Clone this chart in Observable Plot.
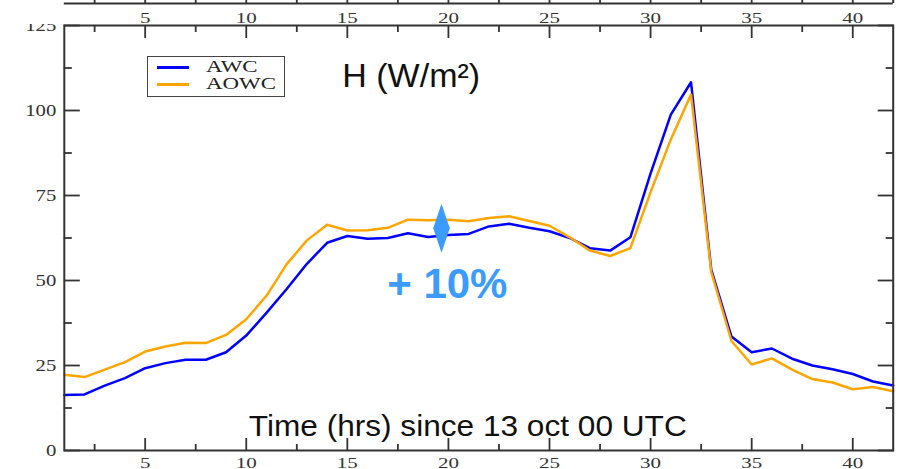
<!DOCTYPE html>
<html><head><meta charset="utf-8">
<script src="https://cdn.jsdelivr.net/npm/d3@7"></script>
<script src="https://cdn.jsdelivr.net/npm/@observablehq/plot@0.6"></script>
<style>
html,body{margin:0;padding:0;background:#fff;}
#wrap{position:relative;width:903px;height:469px;overflow:hidden;background:#fff;}
#wrap svg{position:absolute;left:0;top:0;}
#legend{position:absolute;left:147px;top:56px;width:138px;height:41px;border:1.5px solid #444;box-sizing:border-box;background:#fff;}
.sw{position:absolute;left:8.5px;width:32px;height:2.5px;}
.lt{position:absolute;left:57.5px;font-family:"Liberation Serif",serif;font-size:16.6px;line-height:16.6px;color:#222;transform:scaleX(1.38);transform-origin:0 0;white-space:nowrap;}
</style></head>
<body><div id="wrap"></div>
<script>
// hours since 13 oct 00 UTC
const hours = [1,2,3,4,5,6,7,8,9,10,11,12,13,14,15,16,17,18,19,20,21,22,23,24,25,26,27,28,29,30,31,32,33,34,35,36,37,38,39,40,41,42];
const awc = [16.3,16.5,19.1,21.3,24.2,25.7,26.7,26.7,28.9,33.8,40.5,47.5,54.9,61.1,63.1,62.3,62.5,63.9,62.8,63.4,63.7,65.9,66.7,65.5,64.5,62.5,59.5,58.8,62.7,81.5,98.8,108.3,53.2,33.5,28.9,30.0,27.0,25.0,23.9,22.5,20.3,19.1];
const aowc = [22.3,21.6,23.8,26.0,29.1,30.6,31.7,31.6,34.0,38.6,45.5,54.8,61.8,66.4,64.7,64.8,65.5,67.9,67.7,67.9,67.4,68.4,68.9,67.5,66.1,62.7,58.8,57.2,59.5,76.0,91.5,104.7,52.5,32.2,25.3,27.1,23.8,21.0,20.0,18.0,18.7,17.4];
const seriesNames = ["AWC", "AOWC"];
const seriesColors = ["#0000ff", "#ffa500"];
const xMajor = [5,10,15,20,25,30,35,40];
const xMinor = [2.5,7.5,12.5,17.5,22.5,27.5,32.5,37.5];
const yMajor = [0,25,50,75,100,125];
const yMinor = [12.5,37.5,62.5,87.5,112.5];
const titleText = "H (W/m\u00B2)";
const xTitle = "Time (hrs) since 13 oct 00 UTC";
const noteText = "+ 10%";
const noteColor = "#3c9cfd";

const data = hours.map((h, i) => ({hour: h, AWC: awc[i], AOWC: aowc[i]}));
const ink = "#333";
const serif = "Liberation Serif";
const sans = "Liberation Sans";
const blank = () => "";

const diamond = {draw(ctx) { ctx.moveTo(0, -24.5); ctx.lineTo(8.3, 0); ctx.lineTo(0, 24.5); ctx.lineTo(-8.3, 0); ctx.closePath(); }};

const main = Plot.plot({
  width: 903, height: 469,
  marginLeft: 63.8, marginRight: 10.3, marginTop: 25, marginBottom: 19,
  style: {background: "white", color: ink, overflow: "visible"},
  x: {domain: [1, 42], axis: null},
  y: {domain: [0, 125], axis: null},
  marks: [
    Plot.line(data, {x: "hour", y: "AWC", stroke: seriesColors[0], strokeWidth: 2.5}),
    Plot.line(data, {x: "hour", y: "AOWC", stroke: seriesColors[1], strokeWidth: 2.5}),
    Plot.frame({stroke: ink, strokeWidth: 2}),
    Plot.axisX({anchor: "bottom", ticks: xMajor, tickSize: -12, tickPadding: 18.7, tickFormat: d => String(d), fontFamily: serif, fontSize: 15, strokeWidth: 1.8, label: null}),
    Plot.axisX({anchor: "bottom", ticks: xMinor, tickSize: -6, tickFormat: blank, strokeWidth: 1.8, label: null}),
    Plot.axisX({anchor: "top", ticks: xMajor, tickSize: -12, tickFormat: blank, strokeWidth: 1.8, label: null}),
    Plot.axisX({anchor: "top", ticks: xMinor, tickSize: -6, tickFormat: blank, strokeWidth: 1.8, label: null}),
    Plot.axisY({anchor: "left", ticks: yMajor, tickSize: -16, tickPadding: 24, tickFormat: d => String(d), fontFamily: serif, fontSize: 17, strokeWidth: 1.8, label: null}),
    Plot.axisY({anchor: "left", ticks: yMinor, tickSize: -8, tickFormat: blank, strokeWidth: 1.8, label: null}),
    Plot.axisY({anchor: "right", ticks: yMajor, tickSize: -16, tickFormat: blank, strokeWidth: 1.8, label: null}),
    Plot.axisY({anchor: "right", ticks: yMinor, tickSize: -8, tickFormat: blank, strokeWidth: 1.8, label: null}),
    Plot.text([titleText], {frameAnchor: "top-left", dx: 278, dy: 61, text: d => d, textAnchor: "start", lineAnchor: "bottom", fontFamily: sans, fontSize: 34, fill: "#111"}),
    Plot.text([xTitle], {frameAnchor: "bottom-left", dx: 184.5, dy: -15, text: d => d, textAnchor: "start", lineAnchor: "bottom", fontFamily: sans, fontSize: 29, fill: "#111"}),
    Plot.text([noteText], {frameAnchor: "top-left", dx: 322.9, dy: 272, text: d => d, textAnchor: "start", lineAnchor: "bottom", fontFamily: sans, fontSize: 42, fontWeight: "bold", fill: noteColor}),
    Plot.dot([noteText], {frameAnchor: "top-left", dx: 377.2, dy: 202.8, symbol: diamond, fill: noteColor, stroke: null})
  ]
});

const strip = Plot.plot({
  width: 903, height: 24,
  marginLeft: 63.8, marginRight: 10.3, marginTop: 0, marginBottom: 21,
  style: {background: "white", color: ink},
  x: {domain: [1, 42], axis: null},
  y: {domain: [0, 1], axis: null},
  marks: [
    Plot.ruleY([0], {stroke: ink, strokeWidth: 2}),
    Plot.ruleX([hours[hours.length - 1]], {stroke: ink, strokeWidth: 2}),
    Plot.axisX({anchor: "bottom", ticks: xMajor, tickSize: -3, tickPadding: 12, tickFormat: d => String(d), fontFamily: serif, fontSize: 15, strokeWidth: 1.8, label: null}),
    Plot.axisX({anchor: "bottom", ticks: xMinor, tickSize: -3, tickFormat: blank, strokeWidth: 1.8, label: null})
  ]
});

function stretch(t, sx) {
  const tr = t.getAttribute("transform");
  if (tr) t.setAttribute("transform", tr + ` scale(${sx},1)`);
  else {
    const x = parseFloat(t.getAttribute("x")) || 0, y = parseFloat(t.getAttribute("y")) || 0;
    t.setAttribute("transform", `translate(${x},${y}) scale(${sx},1) translate(${-x},${-y})`);
  }
}
[main, strip].forEach(svg => {
  svg.querySelectorAll('g[aria-label="x-axis tick label"] text').forEach(t => stretch(t, 1.4));
  svg.querySelectorAll('g[aria-label="y-axis tick label"] text').forEach(t => stretch(t, 1.22));
  svg.querySelectorAll('text').forEach(t => { if (t.textContent === xTitle) stretch(t, 1.09); });
});

const wrap = document.getElementById("wrap");
wrap.appendChild(main);
wrap.appendChild(strip);

const legend = document.createElement("div");
legend.id = "legend";
const swTop = [9, 26.2], txTop = [1.6, 19.3];
seriesNames.forEach((name, i) => {
  const sw = document.createElement("div");
  sw.className = "sw"; sw.style.top = swTop[i] + "px"; sw.style.background = seriesColors[i];
  const lt = document.createElement("div");
  lt.className = "lt"; lt.style.top = txTop[i] + "px"; lt.textContent = name;
  legend.appendChild(sw); legend.appendChild(lt);
});
wrap.appendChild(legend);
</script>
</body></html>
